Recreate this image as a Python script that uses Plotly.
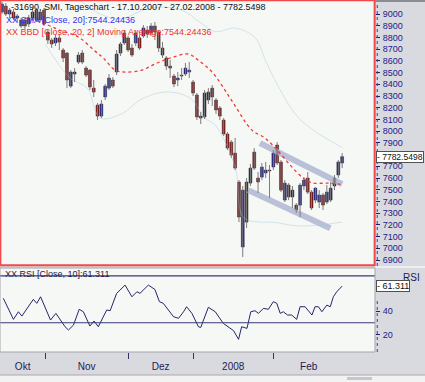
import plotly.graph_objects as go

# ---------------- data ----------------
day_idx = list(range(90))
opens = [9017, 9068, 9000, 9017, 8966, 8898, 8949, 8915, 8966, 9034,
         8949, 9034, 8847, 8778, 8753, 8796, 8693, 8667, 8385, 8488,
         8590, 8667, 8539, 8522, 8368, 8223, 8129, 8292, 8368, 8437,
         8505, 8744, 8753, 8796, 8710, 8753, 8796, 8813, 8864, 8838,
         8898, 8847, 8710, 8625, 8556, 8471, 8437, 8471, 8488, 8505,
         8420, 8309, 8129, 8121, 8266, 8368, 8266, 8198, 8095, 7976,
         7907, 7813, 7566, 7011, 7566, 7557, 7822, 7600, 7608, 7643,
         7668, 7694, 7882, 7737, 7412, 7540, 7438, 7369, 7369, 7532,
         7600, 7480, 7412, 7395, 7455, 7395, 7412, 7532, 7626, 7728]
highs = [9103, 9094, 9052, 9043, 9000, 8966, 8966, 8992, 9052, 9052,
         9034, 9052, 8864, 8796, 8821, 8830, 8710, 8676, 8522, 8539,
         8676, 8693, 8556, 8530, 8437, 8240, 8266, 8403, 8488, 8462,
         8693, 8761, 8864, 8813, 8744, 8864, 8821, 8906, 8898, 8923,
         8932, 8864, 8761, 8642, 8608, 8488, 8505, 8539, 8582, 8590,
         8437, 8326, 8164, 8351, 8368, 8394, 8283, 8215, 8112, 7993,
         7924, 7942, 7583, 7532, 7600, 7720, 7856, 7651, 7728, 7737,
         7711, 7839, 7907, 7754, 7583, 7557, 7532, 7386, 7557, 7608,
         7651, 7497, 7523, 7497, 7472, 7540, 7566, 7626, 7754, 7813]
lows = [9000, 8983, 8966, 8949, 8932, 8881, 8872, 8889, 8949, 8932,
        8932, 8898, 8744, 8710, 8727, 8693, 8590, 8368, 8368, 8420,
        8573, 8573, 8462, 8351, 8292, 8095, 8112, 8266, 8351, 8368,
        8479, 8642, 8736, 8676, 8633, 8727, 8693, 8796, 8796, 8813,
        8778, 8676, 8625, 8522, 8454, 8377, 8385, 8437, 8471, 8454,
        8300, 8095, 8061, 8104, 8232, 8215, 8147, 8095, 7959, 7839,
        7771, 7668, 7224, 6925, 7173, 7532, 7668, 7472, 7583, 7600,
        7429, 7668, 7711, 7480, 7395, 7412, 7344, 7301, 7267, 7497,
        7463, 7327, 7386, 7344, 7327, 7378, 7395, 7497, 7600, 7685]
closes = [9086, 9000, 9034, 8966, 8983, 8949, 8898, 8966, 9017, 8949,
          9017, 8915, 8778, 8744, 8796, 8761, 8625, 8437, 8505, 8505,
          8650, 8590, 8479, 8377, 8334, 8129, 8232, 8385, 8454, 8385,
          8659, 8667, 8838, 8693, 8650, 8838, 8710, 8881, 8830, 8898,
          8847, 8710, 8650, 8556, 8539, 8403, 8454, 8479, 8539, 8522,
          8326, 8121, 8112, 8326, 8334, 8292, 8181, 8129, 7976, 7856,
          7796, 7685, 7267, 7497, 7224, 7685, 7685, 7566, 7694, 7668,
          7660, 7813, 7728, 7497, 7557, 7438, 7497, 7327, 7540, 7583,
          7480, 7344, 7514, 7455, 7369, 7480, 7514, 7600, 7737, 7782.5498]

# SMA 20 (= Bollinger middle) read as points
sma_x = [6, 10, 15, 20, 24, 26.5, 29.6, 32.2, 36.6, 40.6, 44.8, 48.7, 51.3, 55.2,
         60.2, 65.4, 68.8, 72, 75.4, 78.8, 81.4, 85.3, 89]
sma_y = [8966, 8932, 8864, 8804, 8693, 8625, 8522, 8505, 8522, 8582, 8633, 8659, 8608, 8496,
         8257, 8009, 7942, 7839, 7711, 7600, 7557, 7557, 7544.24]

# Bollinger bands (faint)
bb_up_x = [11.3, 17.8, 25.7, 31, 38.7, 46.6, 51.8, 55.8, 61, 66.2, 69, 72, 78, 89]
bb_up_y = [9180, 9160, 9000, 8960, 9050, 9040, 8930, 8850, 8880, 8800, 8600, 8400, 8100, 7860]
bb_lo_x = [11.3, 17.8, 22.3, 25.7, 31.7, 36.1, 42.7, 49.2, 53.1, 55.8, 61, 63.1, 67.5, 70.7, 78, 89]
bb_lo_y = [8745, 8454, 8368, 8112, 8155, 8266, 8334, 8283, 8112, 8052, 7694, 7267, 7224, 7224, 7190, 7224]

# trend channel
chan_up_x = [67.5, 89.0]
chan_up_y = [7898, 7548]
chan_lo_x = [64.4, 85.9]
chan_lo_y = [7497, 7172]

# RSI(10)
rsi_x = [0.35, 3, 4.3, 5.2, 8.2, 9.1, 10.1, 11.3, 12.7, 14.1, 16.5, 17.4, 18.7, 20.2, 21.3,
         23, 24.1, 25.2, 27.4, 28.3, 30, 32.2, 34, 35.3, 36.1, 38.3, 40, 41.2, 42.2, 44.9,
         46.2, 47.5, 48.3, 49.7, 51.4, 52, 54, 55.8, 57, 57.9, 60.6, 61.9, 62.7, 64.1, 65.1,
         66.2, 67.1, 68.4, 69.7, 71, 71.9, 72.8, 73.6, 74.7, 75.8, 77.1, 78, 79.3, 81.1, 81.9,
         82.8, 83.7, 85, 85.9, 86.7, 87.6, 89]
rsi_y = [50.9, 32.9, 39.4, 35.7, 50, 46.6, 52.2, 43.7, 32.3, 38, 26.6, 23.8, 28, 41.5, 39.4,
         27.2, 31.5, 26.6, 40.9, 40.3, 55.1, 62.2, 52.2, 56.5, 55.1, 62.2, 58.5, 48, 46.6, 35.1,
         33.8, 39.4, 43.7, 38, 26.6, 26, 43.2, 39.4, 33.8, 29.5, 23.2, 15.8, 26.6, 25.2, 39.4,
         40.3, 38, 42.3, 41.5, 48, 46.6, 38, 39.4, 36.6, 36.6, 32.9, 43.7, 43.7, 36.6, 43.7,
         43.7, 39.4, 45.1, 43.7, 52.2, 56.5, 61.311]
rsi_levels = [30, 70]

month_labels = ["Okt", "Nov", "Dez", "2008", "Feb"]
month_bounds = [-0.5, 11.3, 33, 50, 71, 89.5]
# 7800 is hidden under the last-price box in the original
price_ticks = [v for v in range(6900, 9001, 100) if v != 7800]
rsi_ticks = [20, 40]

title_1 = "-31690, SMI, Tageschart - 17.10.2007 - 27.02.2008 - 7782.5498"
title_2 = "XX SMA [Close, 20]:7544.24436"
title_3 = "XX BBD [Close, 20, 2] Moving Average:7544.24436"
rsi_title = "XX RSI [Close, 10]:61.311"
last_price_label = "- 7782.5498"
last_rsi_label = "- 61.311"

# ---------------- styling ----------------
W, H = 425, 382
NAVY = "#1c1c78"
FONT = "Liberation Sans, Arial, sans-serif"
PLOT_BG = "#f6f8f5"
PANEL_BG = "#d9dadf"
main_dom = [(352 - 266) / 352, 1.0]
rsi_dom = [0.0, (352 - 268) / 352]

fig = go.Figure()

for cx, cy in [(chan_up_x, chan_up_y), (chan_lo_x, chan_lo_y)]:
    fig.add_trace(go.Scatter(x=cx, y=cy, mode="lines", xaxis="x", yaxis="y",
                             line=dict(color="rgba(165,174,205,0.75)", width=6),
                             hoverinfo="skip", showlegend=False))

for bx, by in [(bb_up_x, bb_up_y), (bb_lo_x, bb_lo_y)]:
    fig.add_trace(go.Scatter(x=bx, y=by, mode="lines", xaxis="x", yaxis="y",
                             line=dict(color="rgba(165,200,220,0.45)", width=1, shape="spline"),
                             hoverinfo="skip", showlegend=False))

wx, wy = [], []
for i, h, l in zip(day_idx, highs, lows):
    wx += [i, i, None]
    wy += [l, h, None]
fig.add_trace(go.Scatter(x=wx, y=wy, mode="lines", xaxis="x", yaxis="y",
                         line=dict(color="#7c7c7c", width=1),
                         hoverinfo="skip", showlegend=False))

base = [min(o, c) for o, c in zip(opens, closes)]
height = [max(abs(c - o), 5) for o, c in zip(opens, closes)]
colors = ["#1e1e98" if c >= o else "#8e1212" for o, c in zip(opens, closes)]
fig.add_trace(go.Bar(x=day_idx, y=height, base=base, width=0.75, xaxis="x", yaxis="y",
                     marker=dict(color=colors, line=dict(color="#262626", width=0.5)),
                     hoverinfo="skip", showlegend=False))

fig.add_trace(go.Scatter(x=sma_x, y=sma_y, mode="lines", xaxis="x", yaxis="y",
                         line=dict(color="#ec3a3a", width=1.3, dash="dot", shape="spline"),
                         hoverinfo="skip", showlegend=False))

fig.add_trace(go.Scatter(x=rsi_x, y=rsi_y, mode="lines", xaxis="x", yaxis="y2",
                         line=dict(color="#25256e", width=1),
                         hoverinfo="skip", showlegend=False))

x_range = [-0.52, 97.6]
centers = [(a + b) / 2 for a, b in zip(month_bounds[:-1], month_bounds[1:])]

shapes = []
for lv in rsi_levels:
    shapes.append(dict(type="line", xref="paper", yref="y2", x0=0, x1=1, y0=lv, y1=lv,
                       line=dict(color="#3a3a78", width=1.2)))
shapes.append(dict(type="rect", xref="paper", yref="paper", x0=0, x1=1,
                   y0=rsi_dom[0], y1=rsi_dom[1], line=dict(color="#a4a4ac", width=1)))
shapes.append(dict(type="rect", xref="paper", yref="paper", x0=0.001, x1=0.999,
                   y0=main_dom[0] + 0.002, y1=0.999, line=dict(color="#f04a4a", width=2)))
shapes.append(dict(type="line", xref="paper", yref="paper", x0=1.006, x1=1.006,
                   y0=main_dom[0], y1=1, line=dict(color="#40408a", width=1, dash="dot")))
shapes.append(dict(type="line", xref="paper", yref="paper", x0=1.006, x1=1.006,
                   y0=0, y1=(352 - 298) / 352, line=dict(color="#40408a", width=1, dash="dot")))
shapes.append(dict(type="line", xref="paper", yref="paper", x0=1.0, x1=W / 375,
                   y0=1 - 0.003, y1=1 - 0.003, line=dict(color="#8c8c90", width=2)))
shapes.append(dict(type="line", xref="paper", yref="paper", x0=1.0, x1=W / 375,
                   y0=(352 - 267) / 352, y1=(352 - 267) / 352, line=dict(color="#f4f4f6", width=1.5)))
shapes.append(dict(type="rect", xref="paper", yref="paper", x0=0, x1=W / 375,
                   y0=(352 - 382) / 352, y1=(352 - 375) / 352,
                   fillcolor="#f2f2f2", line=dict(width=0)))
shapes.append(dict(type="line", xref="paper", yref="paper", x0=0, x1=W / 375,
                   y0=(352 - 375) / 352, y1=(352 - 375) / 352, line=dict(color="#a8a8ac", width=1)))
shapes.append(dict(type="rect", xref="paper", yref="paper", x0=347 / 375, x1=372 / 375,
                   y0=(352 - 380) / 352, y1=(352 - 377) / 352,
                   fillcolor="#c6c6cc", line=dict(width=0)))

annotations = [
    dict(text=title_1, xref="paper", yref="paper", x=9 / 375, y=1 - 7 / 352,
         xanchor="left", yanchor="middle", showarrow=False,
         font=dict(family=FONT, size=9, color="#111111")),
    dict(text=title_2, xref="paper", yref="paper", x=4 / 375, y=1 - 20 / 352,
         xanchor="left", yanchor="middle", showarrow=False,
         font=dict(family=FONT, size=9, color="#3232ee")),
    dict(text=title_3, xref="paper", yref="paper", x=4 / 375, y=1 - 32 / 352,
         xanchor="left", yanchor="middle", showarrow=False,
         font=dict(family=FONT, size=9, color="#ee3030")),
    dict(text=rsi_title, xref="paper", yref="paper", x=3 / 375, y=(352 - 274) / 352,
         xanchor="left", yanchor="middle", showarrow=False,
         font=dict(family=FONT, size=9, color="#1c1c50")),
    dict(text="RSI", xref="paper", yref="paper", x=422 / 375, y=(352 - 277) / 352,
         xanchor="right", yanchor="middle", showarrow=False,
         font=dict(family=FONT, size=10, color="#1c1c50")),
    dict(text=last_price_label, xref="paper", yref="y", x=376 / 375, y=closes[-1],
         xanchor="left", yanchor="middle", showarrow=False, bgcolor="#ffffff",
         bordercolor="#505050", borderwidth=1, borderpad=0,
         font=dict(family=FONT, size=8.5, color="#111111")),
    dict(text=last_rsi_label, xref="paper", yref="y2", x=376 / 375, y=rsi_y[-1],
         xanchor="left", yanchor="middle", showarrow=False, bgcolor="#ffffff",
         bordercolor="#505050", borderwidth=1, borderpad=0,
         font=dict(family=FONT, size=9, color="#111111")),
]

fig.update_layout(
    width=W, height=H,
    margin=dict(l=0, r=50, t=0, b=30, autoexpand=False),
    paper_bgcolor=PANEL_BG, plot_bgcolor=PLOT_BG,
    barmode="overlay", showlegend=False,
    xaxis=dict(domain=[0, 1], anchor="y2", range=x_range, automargin=False,
               tickmode="array", tickvals=centers, ticktext=month_labels,
               ticks="", showgrid=False, zeroline=False, showline=False,
               ticklabelstandoff=7,
               tickfont=dict(family=FONT, size=10, color="#1c1c50"),
               minor=dict(tickmode="array", tickvals=month_bounds[1:-1], ticks="outside",
                          ticklen=6, tickwidth=1, tickcolor="#30306a", showgrid=False)),
    yaxis=dict(domain=main_dom, anchor="x", side="right", range=[6849, 9120], automargin=False,
               tickmode="array", tickvals=price_ticks, ticks="outside", ticklen=4,
               tickcolor=NAVY, showgrid=False, zeroline=False, showline=False,
               ticklabelstandoff=1,
               tickfont=dict(family=FONT, size=9, color="#20208a")),
    yaxis2=dict(domain=rsi_dom, anchor="x", side="right", range=[5, 76.8], automargin=False,
                tickmode="array", tickvals=rsi_ticks, ticks="outside", ticklen=4,
                tickcolor=NAVY, showgrid=False, zeroline=False, showline=False,
                ticklabelstandoff=1,
                tickfont=dict(family=FONT, size=9, color="#20208a")),
    shapes=shapes, annotations=annotations,
)

fig.write_html("out.html", config={"displayModeBar": False},
               post_script="document.body.style.margin='0';document.body.style.overflow='hidden';")
